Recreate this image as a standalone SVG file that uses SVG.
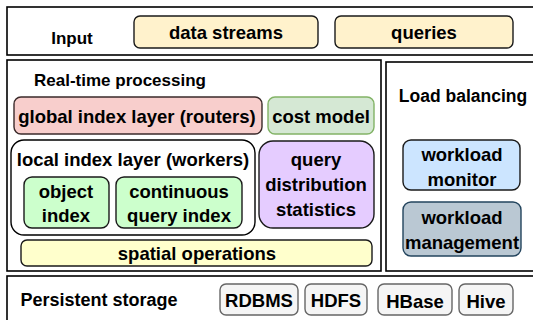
<svg xmlns="http://www.w3.org/2000/svg" width="533" height="320" viewBox="0 0 533 320">
  <style>
    text { font-family: "Liberation Sans", Arial, sans-serif; font-weight: bold; fill: #000; text-anchor: middle; }
    .hdr { font-size: 17px; }
    .lbl { font-size: 18.5px; }
    .panel { fill: #fff; stroke: #000; stroke-width: 1.6; }
    .node { stroke-width: 1.4; }
    .cream { fill: #fff2cc; stroke: #1a1a1a; }
    .red { fill: #f8cecc; stroke: #3a2a2a; }
    .sage { fill: #d5e8d4; stroke: #82b366; }
    .mint { fill: #ccffcc; stroke: #1a1a1a; }
    .lilac { fill: #e5ccff; stroke: #1a1a1a; }
    .lemon { fill: #ffffcc; stroke: #1a1a1a; }
    .sky { fill: #cce5ff; stroke: #1a1a1a; }
    .slate { fill: #bac8d3; stroke: #23445d; }
    .grey { fill: #f5f5f5; stroke: #666; }
  </style>

  <rect width="533" height="320" fill="#fff"/>

  <!-- layer panels -->
  <g id="input-panel">
    <rect class="panel" x="7" y="7" width="540" height="48"/>
    <text class="hdr" x="72" y="44">Input</text>
  </g>
  <g id="realtime-panel">
    <rect class="panel" x="7" y="60" width="374" height="211"/>
    <text class="hdr" x="120" y="86">Real-time processing</text>
  </g>
  <g id="balancing-panel">
    <rect class="panel" x="386" y="62" width="160" height="209"/>
    <text class="hdr" x="463" y="102" style="font-size:17.5px">Load balancing</text>
  </g>
  <g id="storage-panel">
    <rect class="panel" x="7" y="276" width="540" height="60"/>
    <text class="hdr" x="99" y="306" style="font-size:18px">Persistent storage</text>
  </g>

  <!-- input sources -->
  <g id="data-streams">
    <rect class="node cream" x="134" y="16" width="184" height="32" rx="6"/>
    <text class="lbl" x="226" y="39">data streams</text>
  </g>
  <g id="queries">
    <rect class="node cream" x="335" y="16" width="178" height="32" rx="6"/>
    <text class="lbl" x="424" y="39">queries</text>
  </g>

  <!-- real-time processing -->
  <g id="global-index">
    <rect class="node red" x="14" y="97" width="248" height="37" rx="7"/>
    <text class="lbl" x="137" y="123">global index layer (routers)</text>
  </g>
  <g id="cost-model">
    <rect class="node sage" x="268" y="97" width="106" height="37" rx="7"/>
    <text class="lbl" x="321" y="123">cost model</text>
  </g>
  <g id="local-index">
    <rect class="node" fill="#fff" stroke="#000" x="11" y="140" width="244" height="95" rx="13"/>
    <text class="lbl" x="133" y="166">local index layer (workers)</text>
  </g>
  <g id="object-index">
    <rect class="node mint" x="24" y="177" width="85" height="51" rx="8"/>
    <text class="lbl" x="66" y="198">object</text>
    <text class="lbl" x="66" y="222">index</text>
  </g>
  <g id="continuous-query-index">
    <rect class="node mint" x="116" y="177" width="126" height="51" rx="8"/>
    <text class="lbl" x="179" y="198">continuous</text>
    <text class="lbl" x="179" y="222">query index</text>
  </g>
  <g id="query-distribution">
    <rect class="node lilac" x="259" y="141" width="115" height="87" rx="14"/>
    <text class="lbl" x="316" y="166">query</text>
    <text class="lbl" x="316" y="191">distribution</text>
    <text class="lbl" x="316" y="216">statistics</text>
  </g>
  <g id="spatial-operations">
    <rect class="node lemon" x="21" y="240" width="351" height="26" rx="6"/>
    <text class="lbl" x="197" y="260">spatial operations</text>
  </g>

  <!-- load balancing -->
  <g id="workload-monitor">
    <rect class="node sky" x="403" y="140" width="117" height="50" rx="8"/>
    <text class="lbl" x="462" y="161">workload</text>
    <text class="lbl" x="462" y="186">monitor</text>
  </g>
  <g id="workload-management">
    <rect class="node slate" x="403" y="202" width="118" height="54" rx="8"/>
    <text class="lbl" x="462" y="224">workload</text>
    <text class="lbl" x="462" y="249">management</text>
  </g>

  <!-- storage backends -->
  <g id="rdbms">
    <rect class="node grey" x="220" y="284" width="78" height="31" rx="6"/>
    <text class="lbl" x="259" y="307">RDBMS</text>
  </g>
  <g id="hdfs">
    <rect class="node grey" x="305" y="284" width="62" height="31" rx="6"/>
    <text class="lbl" x="336" y="307">HDFS</text>
  </g>
  <g id="hbase">
    <rect class="node grey" x="378" y="284" width="74" height="31" rx="6"/>
    <text class="lbl" x="415" y="308">HBase</text>
  </g>
  <g id="hive">
    <rect class="node grey" x="459" y="284" width="54" height="31" rx="6"/>
    <text class="lbl" x="486" y="308">Hive</text>
  </g>

  <g id="connectors"/>
</svg>
